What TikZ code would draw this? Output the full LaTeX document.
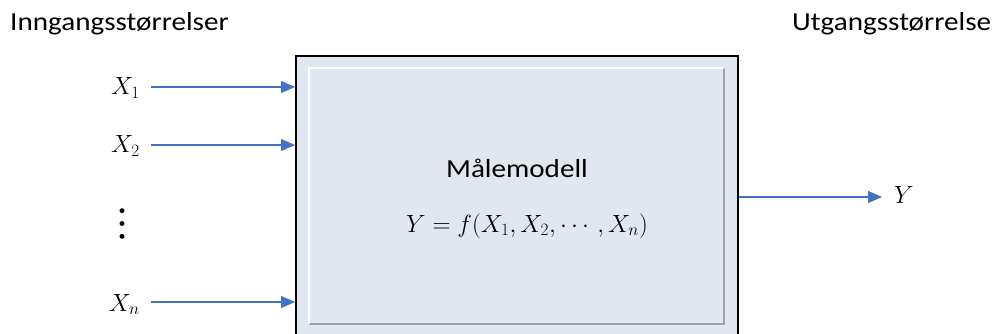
\documentclass[tikz,border=0pt]{standalone}
\usepackage{amsmath}
\usepackage{fontspec}
\setmainfont{Carlito}
\newfontfamily\vdotsfont{latinmodern-math.otf}
\usepackage{tikz}
\usetikzlibrary{arrows.meta,positioning,calc}
\definecolor{SigBlue}{HTML}{4472C4}
\definecolor{BoxFill}{HTML}{E1E7F1}
\definecolor{BevelGray}{HTML}{9EA3AB}
\tikzset{
  modelbox/.style={draw=black,line width=2.4pt,fill=BoxFill,minimum width=442pt,minimum height=290pt,anchor=north west,inner sep=0pt},
  bevel/.style={draw=BevelGray,line width=1.6pt},
  sigarrow/.style={-{Triangle[length=14pt,width=12pt]},line width=1.3pt,draw=SigBlue,fill=SigBlue},
  varlabel/.style={anchor=base east,inner sep=0pt,font=\fontsize{26}{30}\selectfont},
  wordtext/.style={inner sep=0pt,xscale=1.12,transform shape,font=\fontsize{26}{30}\selectfont},
  headtext/.style={wordtext,anchor=base west}
}

\begin{document}
\begin{tikzpicture}[x=1pt,y=-1pt]
\useasboundingbox (0,0) rectangle (999,334);
\clip (0,0) rectangle (999,334);
\node[modelbox] (model) at (295,55) {};
\draw[bevel] (309,324) -- (724,324) -- (724,68);
\draw[white,line width=1.6pt] (309,324) -- (309,68) -- (724,68);
\node[wordtext,anchor=base] (name) at (517,178) {Målemodell};
\node[anchor=base,inner sep=0pt,font=\fontsize{25}{30}\selectfont] (eq) at (527,232) {$Y = f(X_1, X_2, \cdots, X_n)$};
\node[headtext] (inhead) at (10,31) {Inngangsstørrelser};
\node[headtext] (outhead) at (792,31) {Utgangsstørrelse};
% inputs
\coordinate (x1s) at (151,87);
\coordinate (x2s) at (151,145);
\coordinate (xns) at (151,302);
\node[varlabel] (x1) at ($(x1s)+(-11,8)$) {$X_1$};
\node[varlabel] (x2) at ($(x2s)+(-11,8)$) {$X_2$};
\node[varlabel] (xn) at ($(xns)+(-11,9)$) {$X_n$};
\node[inner sep=0pt,font=\vdotsfont\fontsize{46}{48}\selectfont] (vdots) at (123,223.5) {⋮};
\draw[sigarrow] (x1s) -- (x1s -| model.west);
\draw[sigarrow] (x2s) -- (x2s -| model.west);
\draw[sigarrow] (xns) -- (xns -| model.west);
% output
\node[varlabel,anchor=base west] (y) at (894,204) {$Y$};
\draw[sigarrow] (model.east |- 0,197) -- (882,197);
\end{tikzpicture}
\end{document}
